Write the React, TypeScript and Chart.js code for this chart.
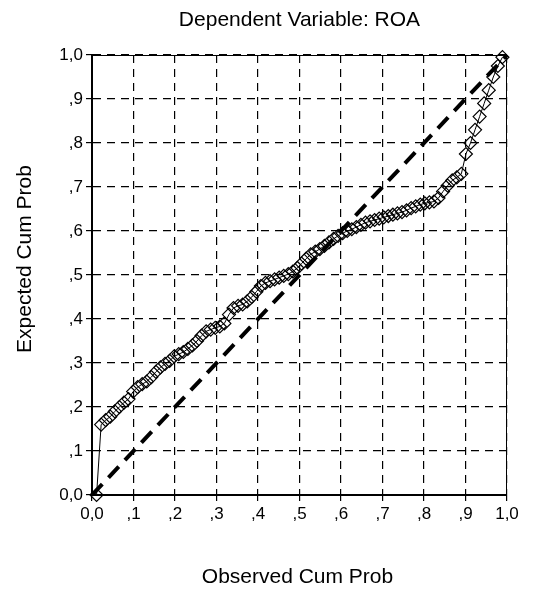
import React, { useEffect, useRef } from "react";
import { Chart, registerables } from "chart.js";

Chart.register(...registerables);

const titleText = "Dependent Variable: ROA";
const xAxisTitle = "Observed Cum Prob";
const yAxisTitle = "Expected Cum Prob";

const tickValues = [0, 0.1, 0.2, 0.3, 0.4, 0.5, 0.6, 0.7, 0.8, 0.9, 1.0];
const tickLabels = ["0,0", ",1", ",2", ",3", ",4", ",5", ",6", ",7", ",8", ",9", "1,0"];

const observedCumProb = [
  0.011, 0.022, 0.033, 0.044, 0.055, 0.066, 0.077, 0.088, 0.099, 0.11,
  0.121, 0.132, 0.143, 0.154, 0.165, 0.176, 0.187, 0.198, 0.209, 0.22,
  0.231, 0.242, 0.253, 0.264, 0.275, 0.286, 0.297, 0.308, 0.319, 0.33,
  0.341, 0.352, 0.363, 0.374, 0.385, 0.396, 0.407, 0.418, 0.429, 0.44,
  0.451, 0.462, 0.473, 0.484, 0.495, 0.505, 0.516, 0.527, 0.538, 0.549,
  0.56, 0.571, 0.582, 0.593, 0.604, 0.615, 0.626, 0.637, 0.648, 0.659,
  0.67, 0.681, 0.692, 0.703, 0.714, 0.725, 0.736, 0.747, 0.758, 0.769,
  0.78, 0.791, 0.802, 0.813, 0.824, 0.835, 0.846, 0.857, 0.868, 0.879,
  0.89, 0.901, 0.912, 0.923, 0.934, 0.945, 0.956, 0.967, 0.978, 0.989,
];

const expectedCumProb = [
  0.0, 0.16, 0.17, 0.178, 0.19, 0.2, 0.21, 0.218, 0.235, 0.245,
  0.252, 0.258, 0.268, 0.28, 0.29, 0.298, 0.305, 0.315, 0.32, 0.325,
  0.332, 0.34, 0.35, 0.362, 0.372, 0.376, 0.38, 0.383, 0.39, 0.41,
  0.425, 0.43, 0.433, 0.44, 0.45, 0.462, 0.475, 0.482, 0.486, 0.49,
  0.494, 0.498, 0.502, 0.508, 0.516, 0.526, 0.537, 0.547, 0.553, 0.559,
  0.566, 0.574, 0.582, 0.589, 0.595, 0.6, 0.604, 0.609, 0.614, 0.619,
  0.622, 0.625, 0.628, 0.631, 0.634, 0.637, 0.64, 0.643, 0.647, 0.652,
  0.656, 0.66, 0.663, 0.665, 0.667, 0.675, 0.69, 0.703, 0.715, 0.722,
  0.73, 0.775, 0.8, 0.83, 0.86, 0.89, 0.92, 0.95, 0.975, 0.995,
];

const diagonalX = [0, 1];
const diagonalY = [0, 1];

const FONT = "Arial, 'Liberation Sans', sans-serif";

const framePlugin = {
  id: "frame",
  beforeDatasetsDraw(chart: any) {
    const { ctx, chartArea } = chart;
    ctx.save();
    ctx.strokeStyle = "#000";
    ctx.lineWidth = 1;
    ctx.setLineDash([]);
    ctx.beginPath();
    ctx.moveTo(chartArea.left, chartArea.top + 0.5);
    ctx.lineTo(chartArea.right, chartArea.top + 0.5);
    ctx.moveTo(chartArea.right - 0.5, chartArea.top);
    ctx.lineTo(chartArea.right - 0.5, chartArea.bottom);
    ctx.stroke();
    ctx.restore();
  },
};

const titlesPlugin = {
  id: "titles",
  afterDraw(chart: any) {
    const { ctx, chartArea } = chart;
    const cx = (chartArea.left + chartArea.right) / 2;
    ctx.save();
    ctx.fillStyle = "#000";
    ctx.textAlign = "center";
    ctx.textBaseline = "middle";
    ctx.font = `21px ${FONT}`;
    ctx.fillText(titleText, cx, 20);
    ctx.fillText(xAxisTitle, cx - 2, 577);
    ctx.translate(25, 259);
    ctx.rotate(-Math.PI / 2);
    ctx.fillText(yAxisTitle, 0, 0);
    ctx.restore();
  },
};

function fmt(v: number) {
  const i = tickValues.findIndex((t) => Math.abs(t - v) < 1e-6);
  return i >= 0 ? tickLabels[i] : "";
}

export default function App() {
  const ref = useRef<HTMLCanvasElement | null>(null);

  useEffect(() => {
    if (!ref.current) return;
    const scaleCommon = {
      type: "linear" as const,
      min: 0,
      max: 1,
      ticks: {
        stepSize: 0.1,
        color: "#000",
        font: { family: FONT, size: 17 },
        padding: 3,
        callback: (v: any) => fmt(Number(v)),
      },
      grid: {
        color: "#000",
        lineWidth: 1.2,
        drawTicks: true,
        tickLength: 6,
        tickColor: "#000",
        tickBorderDash: [],
      },
      border: { display: true, color: "#000", width: 2, dash: [8, 6] },
    };
    const chart = new Chart(ref.current, {
      type: "line",
      data: {
        datasets: [
          {
            label: "Observed",
            data: observedCumProb.map((x, i) => ({ x, y: expectedCumProb[i] })),
            borderColor: "#000",
            borderWidth: 1,
            backgroundColor: "rgba(0,0,0,0)",
            pointStyle: "rectRot",
            pointRadius: 6.5,
            pointBorderWidth: 1.2,
            pointBorderColor: "#000",
            pointBackgroundColor: "rgba(0,0,0,0)",
            tension: 0,
            clip: false as any,
          },
          {
            label: "Diagonal",
            data: diagonalX.map((x, i) => ({ x, y: diagonalY[i] })),
            borderColor: "#000",
            borderWidth: 4,
            borderDash: [15, 9],
            pointRadius: 0,
            tension: 0,
            clip: false as any,
          },
        ],
      },
      options: {
        animation: false,
        responsive: false,
        layout: { padding: { left: 0, right: 43, top: 55, bottom: 0 } },
        plugins: {
          legend: { display: false },
          tooltip: { enabled: false },
          title: { display: false },
        },
        scales: {
          x: {
            ...scaleCommon,
            position: "bottom",
            afterFit: (s: any) => {
              s.height = 97;
            },
          },
          y: {
            ...scaleCommon,
            position: "left",
            afterFit: (s: any) => {
              s.width = 92;
            },
          },
        },
      },
      plugins: [framePlugin, titlesPlugin],
    } as any);
    return () => chart.destroy();
  }, []);

  return (
    <div style={{ position: "absolute", left: 0, top: 0, width: 550, height: 592 }}>
      <canvas ref={ref} width={550} height={592} style={{ width: 550, height: 592 }} />
    </div>
  );
}
